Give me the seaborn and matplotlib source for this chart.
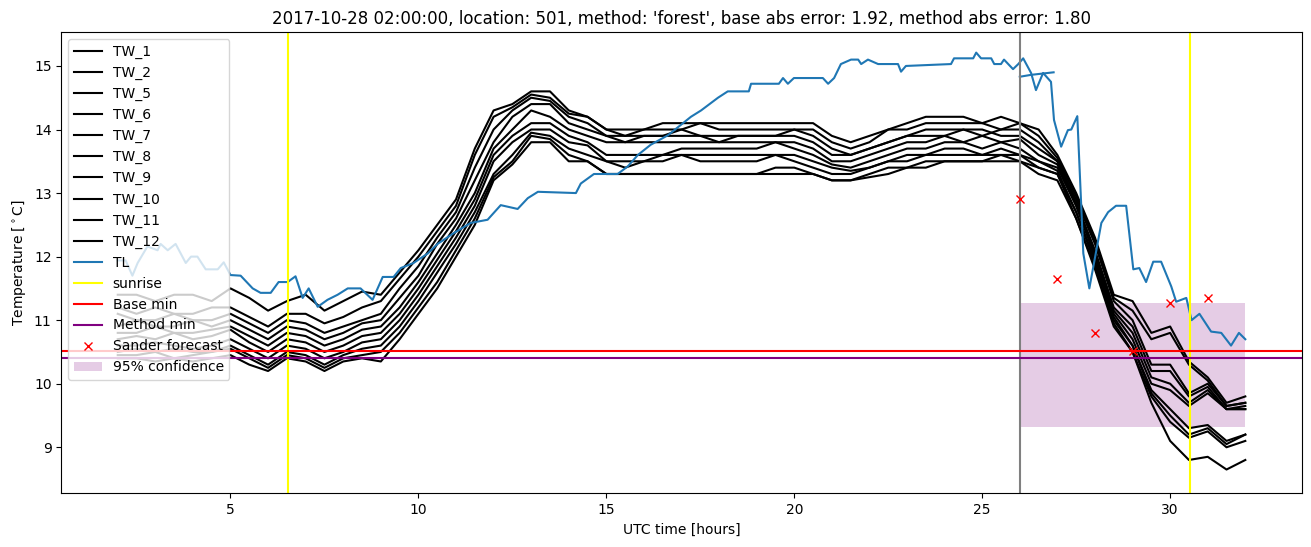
import matplotlib
matplotlib.use("Agg")
import matplotlib.pyplot as plt
import seaborn as sns

# ---------------- data ----------------
HOURS = [2.0, 2.5, 3.0, 3.5, 4.0, 4.5, 5.0, 5.5, 6.0, 6.5, 7.0, 7.5, 8.0, 8.5,
         9.0, 9.5, 10.0, 10.5, 11.0, 11.5, 12.0, 12.5, 13.0,
         13.5, 14.0, 14.5, 15.0, 15.5,
         16.0, 16.5, 17.0, 17.5, 18.0, 18.5, 19.0, 19.5, 20.0,
         20.5, 21.0, 21.5, 22.0,
         22.5, 23.0, 23.5, 24.0, 24.5, 25.0, 25.5, 26.0,
         26.5, 27.0, 27.5, 28.0, 28.5, 29.0, 29.5, 30.0, 30.5, 31.0, 31.5, 32.0]

TW_1 = [11.4, 11.4, 11.3, 11.4, 11.4, 11.3, 11.5, 11.35, 11.15, 11.3, 11.4, 11.15, 11.3, 11.45,
        11.4, 11.75, 12.1, 12.5, 12.9, 13.7, 14.3, 14.4, 14.6,
        14.6, 14.3, 14.2, 14.0, 14.0,
        14.0, 14.1, 14.1, 14.1, 14.1, 14.1, 14.1, 14.1, 14.1,
        14.1, 13.9, 13.8, 13.9,
        14.0, 14.1, 14.2, 14.2, 14.2, 14.1, 14.2, 14.1,
        14.0, 13.6, 13.0, 12.3, 11.4, 11.3, 10.8, 10.9, 10.35, 10.1, 9.7, 9.8]
TW_2 = [11.2, 11.1, 11.2, 11.1, 11.1, 11.2, 11.2, 11.05, 10.9, 11.1, 11.1, 10.95, 11.05, 11.2,
        11.3, 11.65, 12.0, 12.4, 12.8, 13.6, 14.2, 14.35, 14.55,
        14.5, 14.25, 14.2, 14.0, 13.9,
        14.0, 14.0, 14.0, 14.1, 14.0, 14.0, 14.0, 14.0, 14.0,
        14.0, 13.8, 13.7, 13.8,
        14.0, 14.0, 14.1, 14.1, 14.1, 14.1, 14.0, 14.1,
        13.9, 13.55, 12.95, 12.25, 11.35, 11.15, 10.7, 10.8, 10.3, 10.05, 9.65, 9.7]
TW_5 = [11.1, 11.0, 11.0, 11.1, 11.0, 11.0, 11.1, 10.95, 10.8, 11.0, 10.95, 10.8, 10.9, 11.0,
        11.1, 11.5, 11.85, 12.3, 12.7, 13.4, 14.0, 14.3, 14.5,
        14.45, 14.2, 14.1, 13.9, 13.9,
        13.9, 13.9, 14.0, 13.9, 13.9, 13.9, 13.9, 13.9, 14.0,
        13.9, 13.7, 13.6, 13.7,
        13.8, 13.9, 14.0, 14.0, 14.0, 13.9, 14.0, 14.0,
        13.8, 13.5, 12.9, 12.2, 11.3, 11.0, 10.3, 10.3, 9.85, 10.0, 9.65, 9.7]
TW_6 = [10.9, 11.0, 10.9, 10.9, 11.0, 10.9, 11.0, 10.85, 10.7, 10.9, 10.85, 10.7, 10.8, 10.95,
        11.0, 11.35, 11.7, 12.2, 12.6, 13.2, 13.8, 14.2, 14.4,
        14.4, 14.1, 14.0, 13.9, 13.8,
        13.9, 13.9, 13.9, 13.9, 13.8, 13.9, 13.9, 13.9, 13.9,
        13.8, 13.6, 13.6, 13.7,
        13.8, 13.9, 13.9, 13.9, 14.0, 14.0, 13.9, 13.9,
        13.7, 13.5, 12.85, 12.1, 11.2, 10.9, 10.2, 10.2, 9.8, 9.95, 9.6, 9.65]
TW_7 = [10.8, 10.8, 10.9, 10.8, 10.8, 10.85, 10.9, 10.75, 10.6, 10.8, 10.75, 10.6, 10.7, 10.85,
        10.9, 11.2, 11.6, 12.05, 12.5, 13.0, 13.7, 14.0, 14.3,
        14.2, 14.0, 13.9, 13.8, 13.8,
        13.8, 13.8, 13.8, 13.8, 13.8, 13.8, 13.8, 13.8, 13.8,
        13.7, 13.5, 13.5, 13.6,
        13.7, 13.8, 13.8, 13.9, 13.8, 13.9, 13.8, 13.85,
        13.6, 13.45, 12.8, 12.05, 11.15, 10.8, 10.1, 10.0, 9.7, 9.9, 9.6, 9.6]
TW_8 = [10.7, 10.75, 10.7, 10.8, 10.7, 10.75, 10.85, 10.65, 10.5, 10.7, 10.65, 10.5, 10.6, 10.75,
        10.8, 11.1, 11.5, 11.95, 12.4, 12.9, 13.6, 13.9, 14.1,
        14.1, 13.9, 13.8, 13.6, 13.6,
        13.6, 13.6, 13.7, 13.7, 13.7, 13.7, 13.7, 13.8, 13.7,
        13.6, 13.45, 13.4, 13.5,
        13.6, 13.7, 13.7, 13.8, 13.8, 13.7, 13.8, 13.7,
        13.5, 13.4, 12.8, 12.0, 11.1, 10.7, 10.0, 9.9, 9.65, 9.85, 9.6, 9.6]
TW_9 = [10.6, 10.6, 10.65, 10.6, 10.55, 10.6, 10.7, 10.55, 10.4, 10.6, 10.55, 10.4, 10.5, 10.65,
        10.7, 11.0, 11.4, 11.85, 12.3, 12.8, 13.5, 13.8, 14.0,
        14.0, 13.8, 13.75, 13.5, 13.5,
        13.5, 13.6, 13.6, 13.6, 13.6, 13.6, 13.6, 13.6, 13.6,
        13.5, 13.4, 13.35, 13.4,
        13.5, 13.6, 13.6, 13.7, 13.7, 13.6, 13.7, 13.6,
        13.5, 13.35, 12.7, 11.95, 11.05, 10.6, 9.9, 9.6, 9.3, 9.35, 9.1, 9.2]
TW_10 = [10.5, 10.55, 10.5, 10.55, 10.5, 10.5, 10.6, 10.45, 10.3, 10.5, 10.45, 10.3, 10.45, 10.55,
         10.6, 10.9, 11.3, 11.75, 12.2, 12.7, 13.3, 13.6, 13.95,
         13.9, 13.7, 13.6, 13.5, 13.4,
         13.5, 13.5, 13.6, 13.5, 13.5, 13.5, 13.5, 13.6, 13.5,
         13.4, 13.3, 13.3, 13.4,
         13.5, 13.5, 13.6, 13.6, 13.6, 13.6, 13.6, 13.6,
         13.4, 13.3, 12.7, 11.9, 11.0, 10.6, 9.85, 9.5, 9.2, 9.3, 9.05, 9.2]
TW_11 = [10.45, 10.45, 10.5, 10.4, 10.45, 10.5, 10.55, 10.4, 10.25, 10.45, 10.4, 10.25, 10.4, 10.45,
         10.5, 10.8, 11.2, 11.6, 12.1, 12.6, 13.25, 13.5, 13.9,
         13.85, 13.6, 13.5, 13.3, 13.3,
         13.3, 13.3, 13.3, 13.3, 13.3, 13.3, 13.3, 13.4, 13.4,
         13.3, 13.2, 13.2, 13.3,
         13.4, 13.4, 13.5, 13.5, 13.5, 13.5, 13.6, 13.5,
         13.4, 13.3, 12.6, 11.85, 10.95, 10.5, 9.8, 9.4, 9.15, 9.25, 9.0, 9.1]
TW_12 = [10.4, 10.4, 10.35, 10.4, 10.35, 10.4, 10.45, 10.3, 10.2, 10.4, 10.35, 10.2, 10.35, 10.4,
         10.35, 10.7, 11.1, 11.5, 12.0, 12.5, 13.2, 13.45, 13.8,
         13.8, 13.5, 13.5, 13.3, 13.3,
         13.3, 13.3, 13.3, 13.3, 13.3, 13.3, 13.3, 13.3, 13.3,
         13.3, 13.2, 13.2, 13.25,
         13.3, 13.4, 13.4, 13.5, 13.5, 13.5, 13.5, 13.5,
         13.3, 13.2, 12.6, 11.8, 10.9, 10.5, 9.7, 9.1, 8.8, 8.85, 8.65, 8.8]

TW_NAMES = ["TW_1", "TW_2", "TW_5", "TW_6", "TW_7", "TW_8", "TW_9", "TW_10", "TW_11", "TW_12"]
TW_SERIES = [TW_1, TW_2, TW_5, TW_6, TW_7, TW_8, TW_9, TW_10, TW_11, TW_12]

TL_HOURS = [2.0, 2.21, 2.39, 2.53, 2.79, 3.06, 3.14, 3.33, 3.54, 3.81, 3.95, 4.12, 4.34, 4.66,
            4.82, 5.0, 5.27, 5.59, 5.8, 6.07, 6.28, 6.52, 6.73, 6.92, 7.08, 7.32, 7.58, 7.85,
            8.12, 8.46, 8.78, 9.05, 9.34, 9.53, 9.87, 10.25, 10.51, 10.94, 11.39, 11.84, 12.19,
            12.64, 12.91, 13.18, 14.19, 14.32, 14.67, 15.3, 15.57, 15.84, 16.18, 16.64, 17.25,
            17.52, 17.97, 18.23, 18.79, 18.85, 19.59, 19.7, 19.83, 19.99, 20.76, 20.9, 21.06,
            21.24, 21.51, 21.7, 21.78, 21.96, 22.23, 22.76, 22.84, 22.97, 24.17, 24.25, 24.76,
            24.84, 24.97, 25.24, 25.32, 25.5, 25.58, 25.82, 25.96, 26.09, 26.3, 26.43, 26.62,
            26.83, 26.91, 27.1, 27.28, 27.37, 27.53, 27.69, 27.85, 28.17, 28.35, 28.56, 28.83,
            29.02, 29.18, 29.36, 29.55, 29.76, 30.03, 30.16, 30.43, 30.57, 30.78, 31.09, 31.36,
            31.62, 31.83, 32.0]
TL_TEMP = [11.94, 11.94, 11.7, 11.9, 12.16, 12.1, 12.2, 12.1, 12.2, 11.9, 12.0, 12.0, 11.8, 11.8,
           11.91, 11.71, 11.7, 11.5, 11.43, 11.43, 11.6, 11.6, 11.69, 11.35, 11.5, 11.21, 11.32, 11.4,
           11.5, 11.5, 11.32, 11.68, 11.68, 11.82, 11.9, 12.05, 12.2, 12.37, 12.53, 12.58, 12.81,
           12.75, 12.92, 13.02, 13.0, 13.15, 13.3, 13.3, 13.42, 13.6, 13.76, 13.91, 14.2,
           14.3, 14.5, 14.6, 14.6, 14.72, 14.72, 14.81, 14.72, 14.81, 14.81, 14.72, 14.81,
           15.03, 15.1, 15.1, 15.03, 15.1, 15.03, 15.03, 14.91, 15.0, 15.03, 15.12, 15.12,
           15.21, 15.12, 15.12, 15.03, 15.03, 15.1, 14.95, 15.03, 15.12, 14.89, 14.62, 14.89,
           14.75, 14.15, 13.73, 13.99, 14.0, 14.21, 12.05, 11.5, 12.53, 12.7, 12.8, 12.8,
           11.8, 11.82, 11.6, 11.92, 11.92, 11.53, 11.29, 11.35, 11.0, 11.1, 10.82, 10.8,
           10.6, 10.8, 10.7]

TL_FC_HOURS = [26.0, 26.3, 26.6, 26.9]
TL_FC_TEMP = [14.83, 14.86, 14.88, 14.9]

SUNRISE = [6.52, 30.53]
FORECAST_START = 26.0
BASE_MIN = 10.52
METHOD_MIN = 10.40

SANDER_HOURS = [26, 27, 28, 29, 30, 31]
SANDER_TEMP = [12.91, 11.65, 10.8, 10.52, 11.27, 11.35]

CONF_HOURS = [26.0, 32.0]
CONF_LOW = 9.32
CONF_HIGH = 11.27

TITLE = ("2017-10-28 02:00:00, location: 501, method: 'forest', "
         "base abs error: 1.92, method abs error: 1.80")

# ---------------- plot ----------------
fig, ax = plt.subplots(figsize=(13.11, 5.47), dpi=100)
fig.subplots_adjust(left=0.0468, right=0.9929, top=0.941, bottom=0.0982)

for name, vals in zip(TW_NAMES, TW_SERIES):
    sns.lineplot(x=HOURS, y=vals, ax=ax, color="black", label=name,
                 estimator=None, linewidth=1.5)
sns.lineplot(x=TL_HOURS, y=TL_TEMP, ax=ax, color="#1f77b4", label="TL",
             estimator=None, linewidth=1.5)
sns.lineplot(x=TL_FC_HOURS, y=TL_FC_TEMP, ax=ax, color="#1f77b4", label="_nolegend_",
             estimator=None, linewidth=1.5)

ax.axvline(FORECAST_START, color="gray", linewidth=1.5)
ax.axvline(SUNRISE[0], color="yellow", linewidth=1.5, label="sunrise")
ax.axvline(SUNRISE[1], color="yellow", linewidth=1.5)
ax.axhline(BASE_MIN, color="red", linewidth=1.5, label="Base min")
ax.axhline(METHOD_MIN, color="purple", linewidth=1.5, label="Method min")
ax.plot(SANDER_HOURS, SANDER_TEMP, "x", color="red", label="Sander forecast")
ax.fill_between(CONF_HOURS, CONF_LOW, CONF_HIGH, color="purple", alpha=0.2,
                linewidth=0, label="95% confidence")

ax.set_xlim(0.5, 33.5)
ax.set_ylim(8.276, 15.53)
ax.set_xticks([5, 10, 15, 20, 25, 30])
ax.set_yticks([9, 10, 11, 12, 13, 14, 15])
ax.set_xlabel("UTC time [hours]")
ax.set_ylabel(r"Temperature [$^\circ$C]")
ax.set_title(TITLE)
ax.legend(loc="upper left")

fig.savefig("out.png", dpi=100)
